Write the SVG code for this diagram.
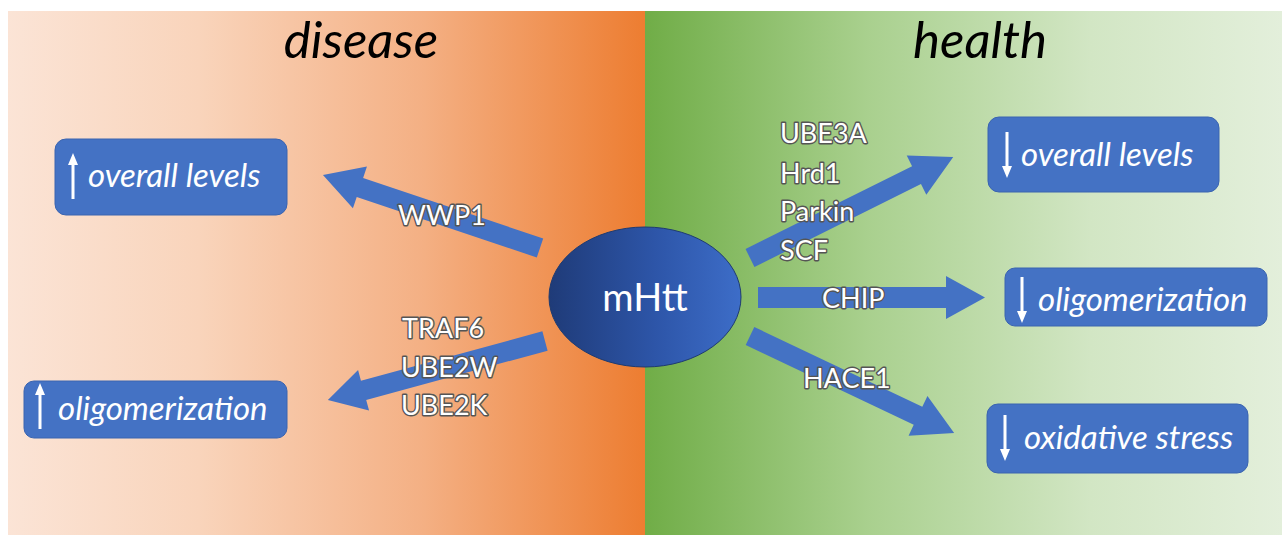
<svg xmlns="http://www.w3.org/2000/svg" width="1282" height="535" viewBox="0 0 1282 535">
<defs>
<linearGradient id="gDis" x1="0" y1="0" x2="1" y2="0">
<stop offset="0" stop-color="#fbe4d6"/>
<stop offset="0.3" stop-color="#f9d4bb"/>
<stop offset="0.65" stop-color="#f4b084"/>
<stop offset="1" stop-color="#ed7d31"/>
</linearGradient>
<linearGradient id="gHea" x1="0" y1="0" x2="1" y2="0">
<stop offset="0" stop-color="#70ad47"/>
<stop offset="0.35" stop-color="#a9d08e"/>
<stop offset="0.7" stop-color="#d2e6c4"/>
<stop offset="1" stop-color="#e3efdb"/>
</linearGradient>
<linearGradient id="gEll" x1="0" y1="0" x2="1" y2="0">
<stop offset="0" stop-color="#1f3b78"/>
<stop offset="0.55" stop-color="#2d55a8"/>
<stop offset="1" stop-color="#3d6dc8"/>
</linearGradient>
<path id="tick" d="M-1.5,0 L-1.5,-34 L-5,-34 L0,-46 L5,-34 L1.5,-34 L1.5,0 Z"/>
</defs>
<style>
.title{font-family:Lato,"Open Sans",sans-serif;font-style:italic;font-size:51px;fill:#000}
.box{fill:#4472c4;stroke:#3a64b0;stroke-width:1}
.btxt{font-family:Lato,"Open Sans",sans-serif;font-style:italic;font-size:33px;fill:#fff}
.tick{fill:#fff}
.arr{fill:#4472c4}
.lab{font-family:Lato,"Open Sans",sans-serif;font-size:27px;fill:#fff;stroke:#555;stroke-width:2.8;paint-order:stroke;stroke-linejoin:round}
.node{font-family:Lato,"Open Sans",sans-serif;font-size:38px;fill:#fff}
</style>
<rect x="0" y="0" width="1282" height="535" fill="#ffffff"/>
<rect x="8" y="11" width="637" height="524" fill="url(#gDis)"/>
<rect x="645" y="11" width="637" height="524" fill="url(#gHea)"/>
<text class="title" x="361" y="58" text-anchor="middle">disease</text>
<text class="title" x="980" y="58" text-anchor="middle">health</text>

<g id="connectors">
<path class="arr" transform="translate(540,248) rotate(198.6)" d="M0,-10 L190,-10 L190,-22 L229,0 L190,22 L190,10 L0,10 Z"/>
<path class="arr" transform="translate(545,341) rotate(164.8)" d="M0,-10 L188,-10 L188,-21 L225,0 L188,21 L188,10 L0,10 Z"/>
<path class="arr" transform="translate(750,258) rotate(-26.45)" d="M0,-10 L186,-10 L186,-22 L227,0 L186,22 L186,10 L0,10 Z"/>
<path class="arr" transform="translate(758,297.5)" d="M0,-10.5 L188,-10.5 L188,-21.5 L227,0 L188,21.5 L188,10.5 L0,10.5 Z"/>
<path class="arr" transform="translate(750,336) rotate(25.4)" d="M0,-10 L186,-10 L186,-22 L226,0 L186,22 L186,10 L0,10 Z"/>
<text class="lab" x="398" y="225">WWP1</text>
<text class="lab" x="402" y="338">TRAF6</text>
<text class="lab" x="401" y="377">UBE2W</text>
<text class="lab" x="401" y="415">UBE2K</text>
<text class="lab" x="780" y="143">UBE3A</text>
<text class="lab" x="780" y="183">Hrd1</text>
<text class="lab" x="780" y="221">Parkin</text>
<text class="lab" x="780" y="260">SCF</text>
<text class="lab" x="822" y="308">CHIP</text>
<text class="lab" x="803" y="388">HACE1</text>
</g>

<g id="mHtt">
<ellipse cx="645" cy="297" rx="96" ry="70" fill="url(#gEll)" stroke="#1f3b70" stroke-width="1"/>
<text class="node" x="645" y="311" text-anchor="middle">mHtt</text>
</g>

<g id="dis-levels">
<rect class="box" x="55" y="139" width="232" height="76" rx="11"/>
<use href="#tick" class="tick" transform="translate(73,199)"/>
<text class="btxt" x="88" y="187">overall levels</text>
</g>
<g id="dis-olig">
<rect class="box" x="24" y="381" width="263" height="57" rx="10"/>
<use href="#tick" class="tick" transform="translate(40,429)"/>
<text class="btxt" x="58" y="420">oligomerization</text>
</g>
<g id="hea-levels">
<rect class="box" x="988" y="117" width="231" height="75" rx="11"/>
<use href="#tick" class="tick" transform="translate(1007,132) rotate(180)"/>
<text class="btxt" x="1021" y="166">overall levels</text>
</g>
<g id="hea-olig">
<rect class="box" x="1005" y="268" width="262" height="58" rx="10"/>
<use href="#tick" class="tick" transform="translate(1022,277) rotate(180)"/>
<text class="btxt" x="1038" y="311">oligomerization</text>
</g>
<g id="hea-ox">
<rect class="box" x="987" y="404" width="261" height="69" rx="11"/>
<use href="#tick" class="tick" transform="translate(1005,415) rotate(180)"/>
<text class="btxt" x="1024" y="449">oxidative stress</text>
</g>
</svg>
